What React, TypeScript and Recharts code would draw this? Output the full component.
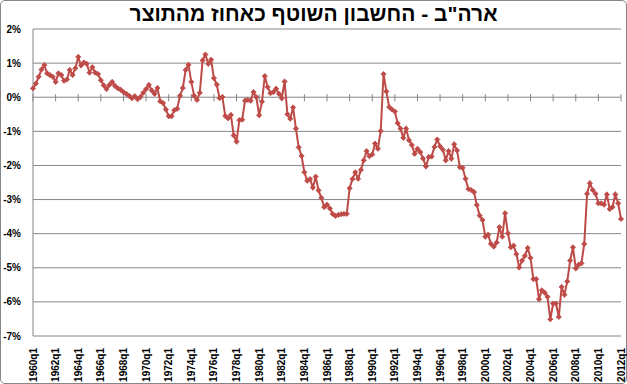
import { LineChart, Line, XAxis, YAxis, CartesianGrid, ReferenceLine } from 'recharts'

// US current account, % of GDP, quarterly from 1960q1
const FIRST_YEAR = 1960
const currentAccount: number[] = [
  0.26, 0.40, 0.60, 0.81, // 1960
  0.94, 0.70, 0.65, 0.60, // 1961
  0.45, 0.70, 0.65, 0.48, // 1962
  0.52, 0.80, 0.65, 0.85, // 1963
  1.18, 0.93, 1.02, 0.98, // 1964
  0.72, 0.88, 0.72, 0.68, // 1965
  0.50, 0.35, 0.24, 0.36, // 1966
  0.45, 0.33, 0.26, 0.22, // 1967
  0.15, 0.10, 0.04, -0.03, // 1968
  0.03, -0.06, 0.01, 0.13, // 1969
  0.24, 0.36, 0.20, 0.10, // 1970
  0.27, -0.12, -0.17, -0.36, // 1971
  -0.56, -0.56, -0.38, -0.34, // 1972
  0.04, 0.27, 0.80, 0.95, // 1973
  0.45, 0.04, -0.08, 0.13, // 1974
  1.08, 1.25, 0.98, 1.10, // 1975
  0.56, 0.37, -0.03, 0.01, // 1976
  -0.55, -0.62, -0.52, -1.12, // 1977
  -1.30, -0.67, -0.66, -0.10, // 1978
  -0.08, -0.10, 0.15, 0.00, // 1979
  -0.53, -0.13, 0.62, 0.30, // 1980
  0.12, 0.15, 0.25, 0.10, // 1981
  -0.03, 0.46, -0.50, -0.63, // 1982
  -0.30, -0.92, -1.47, -1.72, // 1983
  -2.20, -2.45, -2.40, -2.65, // 1984
  -2.33, -2.73, -2.95, -3.22, // 1985
  -3.15, -3.26, -3.42, -3.48, // 1986
  -3.45, -3.43, -3.42, -3.42, // 1987
  -2.67, -2.40, -2.20, -2.39, // 1988
  -2.13, -1.85, -1.58, -1.73, // 1989
  -1.68, -1.36, -1.51, -0.99, // 1990
  0.68, 0.17, -0.29, -0.36, // 1991
  -0.42, -0.76, -0.92, -1.19, // 1992
  -0.92, -1.26, -1.40, -1.66, // 1993
  -1.51, -1.61, -1.80, -2.03, // 1994
  -1.75, -1.74, -1.46, -1.24, // 1995
  -1.44, -1.54, -1.85, -1.58, // 1996
  -1.80, -1.38, -1.56, -2.05, // 1997
  -2.07, -2.39, -2.69, -2.72, // 1998
  -2.78, -3.16, -3.47, -3.60, // 1999
  -4.09, -4.03, -4.30, -4.38, // 2000
  -4.26, -3.81, -4.09, -3.40, // 2001
  -3.99, -4.40, -4.35, -4.60, // 2002
  -4.99, -4.79, -4.65, -4.42, // 2003
  -4.71, -5.33, -5.33, -5.92, // 2004
  -5.66, -5.73, -5.85, -6.51, // 2005
  -6.05, -6.05, -6.44, -5.56, // 2006
  -5.79, -5.40, -4.79, -4.40, // 2007
  -5.02, -4.91, -4.87, -4.30, // 2008
  -2.83, -2.52, -2.72, -2.83, // 2009
  -3.11, -3.11, -3.15, -2.85, // 2010
  -3.28, -3.22, -2.85, -3.11, // 2011
  -3.57, // 2012
]

const quarters = currentAccount.map((_, i) => `${FIRST_YEAR + Math.floor(i / 4)}q${(i % 4) + 1}`)
const labelQuarters = quarters.filter((_, i) => i % 8 === 0)
const yTicks = [2, 1, 0, -1, -2, -3, -4, -5, -6, -7]

const data = quarters.map((q, i) => ({ q, v: currentAccount[i] }))

const RED = '#BE4B48'
const GRID = '#868686'
const FONT = '"Liberation Sans", Arial, sans-serif'

function Diamond(props: any) {
  const { cx, cy } = props
  if (cx == null || cy == null) return null
  const r = 2.6
  return (
    <path
      d={`M${cx},${cy - r}L${cx + r},${cy}L${cx},${cy + r}L${cx - r},${cy}Z`}
      fill={RED}
      stroke={RED}
      strokeWidth={0.8}
    />
  )
}

function QuarterTick(props: any) {
  const { x, y, payload } = props
  return (
    <text
      transform={`translate(${x},${y + 6}) rotate(-90)`}
      textAnchor="end"
      dominantBaseline="central"
      fontSize={10}
      fontWeight="bold"
      fontFamily={FONT}
      fill="#000"
    >
      {payload.value}
    </text>
  )
}

export default function App() {
  return (
    <div style={{ position: 'absolute', left: 0, top: 0, width: 627, height: 384, background: '#fff' }}>
      <div
        style={{
          position: 'absolute',
          left: 0,
          top: 0,
          width: 627,
          height: 384,
          boxSizing: 'border-box',
          border: `1px solid ${GRID}`,
          borderRadius: 5,
          pointerEvents: 'none',
        }}
      />
      <div
        style={{
          position: 'absolute',
          left: 0,
          top: 2,
          width: 627,
          textAlign: 'center',
          direction: 'rtl',
          fontFamily: FONT,
          fontWeight: 'bold',
          fontSize: 21,
          color: '#000',
        }}
      >
        ארה"ב - החשבון השוטף כאחוז מהתוצר
      </div>
      <LineChart width={627} height={384} data={data} margin={{ top: 29, right: 6, bottom: 0, left: 0 }}>
        <CartesianGrid horizontal vertical={false} stroke={GRID} />
        <XAxis
          dataKey="q"
          ticks={labelQuarters}
          interval={0}
          axisLine={false}
          tickLine={false}
          tickMargin={0}
          tick={<QuarterTick />}
          height={48}
        />
        <YAxis
          domain={[-7, 2]}
          ticks={yTicks}
          width={33}
          axisLine={{ stroke: GRID }}
          tickLine={false}
          tickSize={0}
          tickMargin={12}
          tickFormatter={(v: number) => `${v}%`}
          tick={{ fontSize: 10, fontWeight: 'bold', fontFamily: FONT, fill: '#000' }}
        />
        {labelQuarters.map((q) => (
          <ReferenceLine
            key={q}
            segment={[{ x: q, y: 0.09 }, { x: q, y: -0.12 }]}
            stroke={GRID}
          />
        ))}
        <Line
          type="linear"
          dataKey="v"
          stroke={RED}
          strokeWidth={2}
          dot={<Diamond />}
          activeDot={false}
          isAnimationActive={false}
        />
      </LineChart>
    </div>
  )
}
